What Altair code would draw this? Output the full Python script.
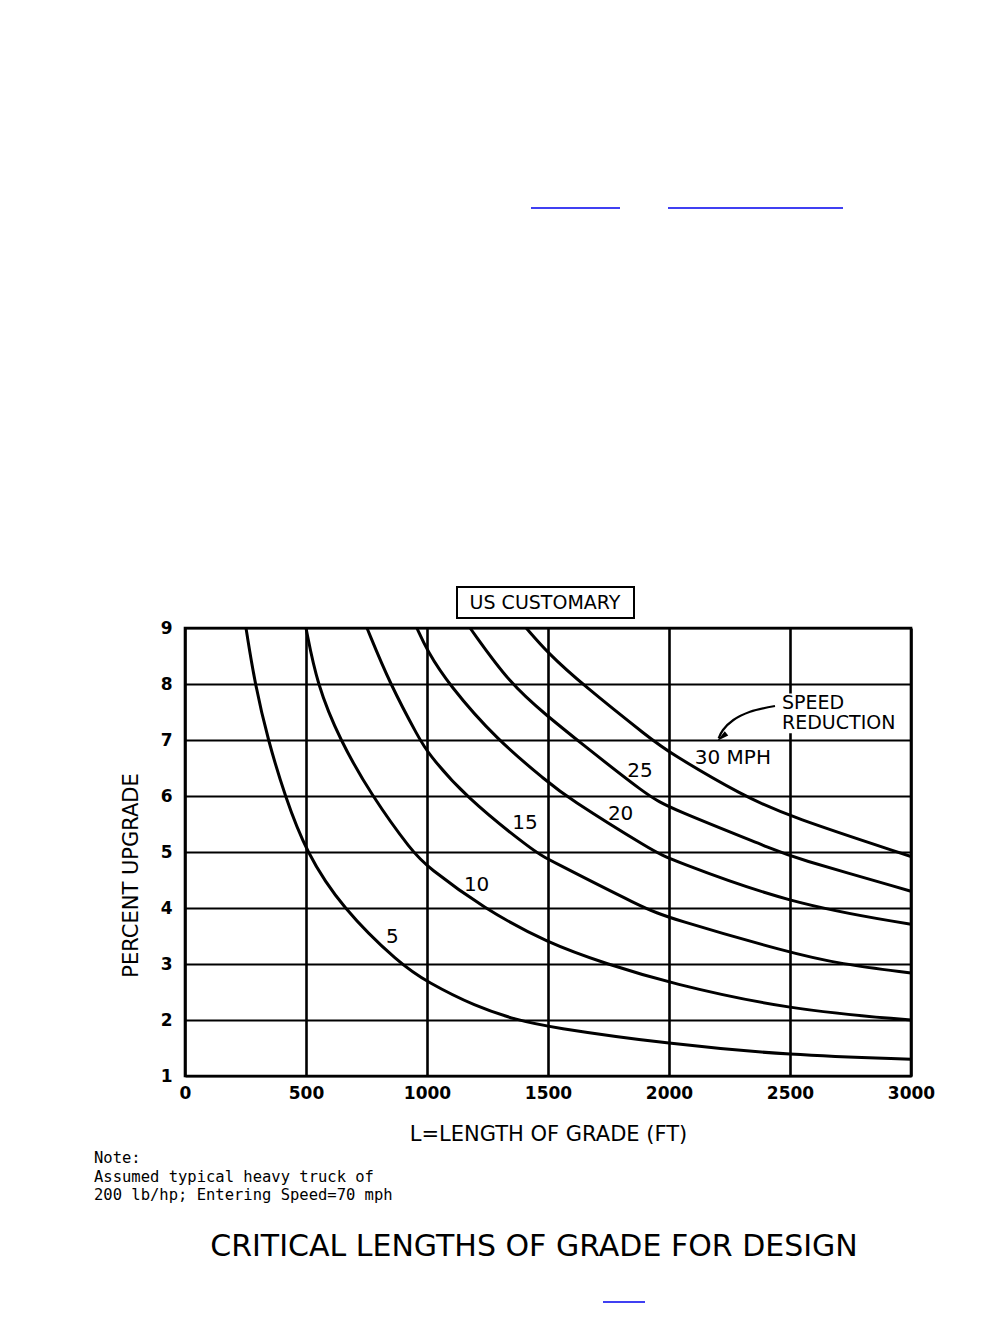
import altair as alt
import pandas as pd

# ---- data ----
speeds = ["5", "10", "15", "20", "25", "30"]

c5_x = [252, 289, 343, 413, 500, 649, 888, 1000, 1200, 1372, 1500, 2000, 2500, 3000]
c5_y = [9, 8, 7, 6, 5, 4, 3, 2.68, 2.24, 2.0, 1.875, 1.57, 1.37, 1.30]

c10_x = [500, 545, 640, 772, 940, 1000, 1232, 1500, 1744, 2000, 2500, 3000]
c10_y = [9, 8, 7, 6, 5, 4.74, 4.0, 3.37, 3.0, 2.66, 2.18, 2.0]

c15_x = [752, 847, 971, 1000, 1153, 1445, 1500, 1895, 2000, 2500, 2707, 3000]
c15_y = [9, 8, 7, 6.79, 6.0, 5.0, 4.87, 4.0, 3.82, 3.2, 3.0, 2.84]

c20_x = [958, 1000, 1088, 1289, 1500, 1570, 1940, 2000, 2500, 3000]
c20_y = [9, 8.6, 8.0, 7.0, 6.25, 6.0, 5.0, 4.88, 4.07, 3.71]

c25_x = [1178, 1343, 1500, 1620, 1913, 2000, 2459, 2500, 3000]
c25_y = [9, 8, 7.42, 7.0, 6.0, 5.79, 5.0, 4.92, 4.30]

c30_x = [1410, 1500, 1640, 1930, 2000, 2306, 2500, 3000]
c30_y = [9, 8.55, 8.0, 7.0, 6.78, 6.0, 5.63, 4.92]

label_text = ["5", "10", "15", "20", "25", "30 MPH"]
label_x = [857, 1205, 1405, 1800, 1880, 2264]
label_y = [3.49, 4.41, 5.52, 5.67, 6.45, 6.68]

note_lines = ["Note:", "Assumed typical heavy truck of", "200 lb/hp; Entering Speed=70 mph"]
speed_lines = ["SPEED", "REDUCTION"]
speed_x = [2467]
speed_y = [7.652]
speed_box_x = [2450, 2950]
speed_box_y = [7.83, 7.12]

arrow_x = [2438, 2335, 2266, 2223, 2205]
arrow_y = [7.607, 7.505, 7.357, 7.179, 7.03]
arrowhead_x = [2218]
arrowhead_y = [7.05]

x_ticks = [0, 500, 1000, 1500, 2000, 2500, 3000]
y_ticks = [1, 2, 3, 4, 5, 6, 7, 8, 9]

# ---- tables ----
rows = []
for s, xs, ys in zip(speeds, [c5_x, c10_x, c15_x, c20_x, c25_x, c30_x],
                     [c5_y, c10_y, c15_y, c20_y, c25_y, c30_y]):
    for a, b in zip(xs, ys):
        rows.append({"speed": s, "L": a, "G": b})
curves = pd.DataFrame(rows)
labels = pd.DataFrame({"t": label_text, "L": label_x, "G": label_y})
speed_df = pd.DataFrame({"L": speed_x, "G": speed_y})
speed_box = pd.DataFrame({"L": [speed_box_x[0]], "L2": [speed_box_x[1]],
                          "G": [speed_box_y[0]], "G2": [speed_box_y[1]]})
arrow_df = pd.DataFrame({"L": arrow_x, "G": arrow_y, "o": list(range(len(arrow_x)))})
head_df = pd.DataFrame({"L": arrowhead_x, "G": arrowhead_y})
one = pd.DataFrame({"k": [0]})

FONT = "DejaVu Sans"

xscale = alt.Scale(domain=[0, 3000], nice=False)
yscale = alt.Scale(domain=[1, 9], nice=False)

xaxis = alt.Axis(values=x_ticks, format="d", title="L=LENGTH OF GRADE (FT)", titleFont=FONT,
                 titleFontSize=21, titleFontWeight="normal", titleColor="black",
                 titleY=64, titleBaseline="alphabetic",
                 labelFont=FONT, labelFontSize=17, labelFontWeight="bold", labelColor="black",
                 labelPadding=9, labelFlush=False, labelOverlap=False, ticks=False, domain=False,
                 grid=True, gridColor="black", gridWidth=2.6, gridOpacity=1)
yaxis = alt.Axis(values=y_ticks, format="d", title="PERCENT UPGRADE", titleFont=FONT,
                 titleFontSize=21, titleFontWeight="normal", titleColor="black",
                 titleX=-48, titleY=247, titleAngle=270, titleBaseline="alphabetic",
                 titleAlign="center",
                 labelFont=FONT, labelFontSize=17, labelFontWeight="bold", labelColor="black",
                 labelPadding=13, labelFlush=False, labelOverlap=False, ticks=False, domain=False,
                 grid=True, gridColor="black", gridWidth=1.9, gridOpacity=1)

lines = alt.Chart(curves).mark_line(color="black", strokeWidth=3,
                                    interpolate="basis").encode(
    x=alt.X("L:Q", scale=xscale, axis=xaxis),
    y=alt.Y("G:Q", scale=yscale, axis=yaxis),
    detail="speed:N",
    order="L:Q",
)

curve_labels = alt.Chart(labels).mark_text(font=FONT, fontSize=20, color="black",
                                           align="center", baseline="middle").encode(
    x="L:Q", y="G:Q", text="t:N")

speed_bg = alt.Chart(speed_box).mark_rect(fill="white", stroke=None).encode(
    x="L:Q", x2="L2:Q", y="G:Q", y2="G2:Q")

speed_text = alt.Chart(speed_df).mark_text(text=speed_lines, lineHeight=20, font=FONT,
                                           fontSize=19, color="black",
                                           align="left", baseline="middle").encode(
    x="L:Q", y="G:Q")

arrow = alt.Chart(arrow_df).mark_line(color="black", strokeWidth=2.2,
                                      interpolate="catmull-rom").encode(
    x="L:Q", y="G:Q", order="o:O")

head = alt.Chart(head_df).mark_point(shape="M0,-1L0.45,1L-0.45,1Z", filled=True, color="black",
                                     opacity=1, size=150, angle=231).encode(x="L:Q", y="G:Q")

box = alt.Chart(one).mark_rect(fill="white", stroke="black", strokeWidth=2).encode(
    x=alt.value(272), x2=alt.value(449), y=alt.value(-41), y2=alt.value(-10))
box_text = alt.Chart(one).mark_text(text="US CUSTOMARY", font=FONT, fontSize=19, color="black",
                                    align="center", baseline="middle").encode(
    x=alt.value(360), y=alt.value(-25))

title = alt.Chart(one).mark_text(text="CRITICAL LENGTHS OF GRADE FOR DESIGN", font=FONT,
                                 fontSize=30, color="black", align="center",
                                 baseline="alphabetic").encode(x=alt.value(349), y=alt.value(628))

note = alt.Chart(one).mark_text(text=note_lines, lineHeight=18.5, font="DejaVu Sans Mono",
                                fontSize=15.5, color="black", align="left",
                                baseline="alphabetic").encode(
    x=alt.value(-91), y=alt.value(535))

blue1 = alt.Chart(one).mark_rule(color="#0000ee", strokeWidth=1.5).encode(
    x=alt.value(346), x2=alt.value(435), y=alt.value(-420))
blue2 = alt.Chart(one).mark_rule(color="#0000ee", strokeWidth=1.5).encode(
    x=alt.value(483), x2=alt.value(658), y=alt.value(-420))
blue3 = alt.Chart(one).mark_rule(color="#0000ee", strokeWidth=1.5).encode(
    x=alt.value(418), x2=alt.value(460), y=alt.value(674))

chart = alt.layer(lines, curve_labels, speed_bg, speed_text, arrow, head, box, box_text, title,
                  note, blue1, blue2, blue3).properties(
    width=726, height=448,
    padding={"left": 177, "top": 620, "right": 89, "bottom": 240},
    autosize=alt.AutoSizeParams(type="none"),
    background="white",
).configure_view(stroke="black", strokeWidth=2.6)

chart.save("out.html", embed_options={"renderer": "svg", "actions": False})
